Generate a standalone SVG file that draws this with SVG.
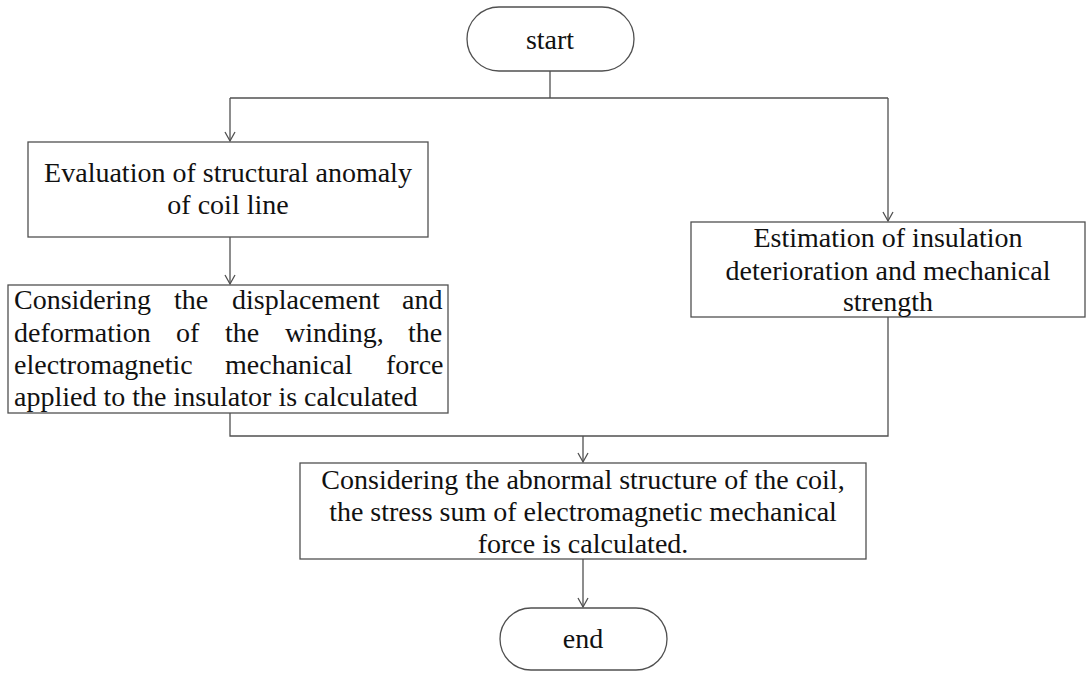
<svg xmlns="http://www.w3.org/2000/svg" width="1086" height="673" viewBox="0 0 1086 673">
<style>
.n{fill:#fff;stroke:#505050;stroke-width:1.3}
.c{fill:none;stroke:#505050;stroke-width:1.3}
.t{font-family:'Liberation Serif', 'DejaVu Serif', serif;font-size:28px;fill:#111}
.m{text-anchor:middle}
</style>
<defs>
<marker id="ah" markerWidth="12" markerHeight="12" refX="10" refY="6" orient="auto" markerUnits="userSpaceOnUse">
<path d="M1,1 L10,6 L1,11" fill="none" stroke="#505050" stroke-width="1.3"/>
</marker>
</defs>
<g id="connectors">
<path class="c" d="M550,71 V98"/>
<path class="c" d="M230,98 H888"/>
<path class="c" d="M230,98 V141" marker-end="url(#ah)"/>
<path class="c" d="M888,98 V221" marker-end="url(#ah)"/>
<path class="c" d="M230,237 V284" marker-end="url(#ah)"/>
<path class="c" d="M230,413 V436 H888 V317"/>
<path class="c" d="M583,436 V462" marker-end="url(#ah)"/>
<path class="c" d="M583,559 V607" marker-end="url(#ah)"/>
</g>
<g class="t" font-family="Liberation Serif, serif">
<g id="start">
<rect class="n" x="467" y="7" width="167" height="64" rx="32"/>
<text class="m" x="550" y="49">start</text>
</g>
<g id="eval">
<rect class="n" x="28" y="142" width="400" height="95"/>
<text class="m" x="228" y="182">Evaluation of structural anomaly</text>
<text class="m" x="228" y="214">of coil line</text>
</g>
<g id="calc1">
<rect class="n" x="8" y="285" width="440" height="128"/>
<text y="309"><tspan x="14">Considering</tspan> <tspan x="174">the</tspan> <tspan x="232">displacement</tspan> <tspan x="402">and</tspan></text>
<text y="342"><tspan x="14">deformation</tspan> <tspan x="176">of</tspan> <tspan x="225">the</tspan> <tspan x="285">winding,</tspan> <tspan x="408">the</tspan></text>
<text y="374"><tspan x="14">electromagnetic</tspan> <tspan x="225">mechanical</tspan> <tspan x="386">force</tspan></text>
<text x="14" y="406">applied to the insulator is calculated</text>
</g>
<g id="estim">
<rect class="n" x="691" y="222" width="394" height="95"/>
<text class="m" x="888" y="247">Estimation of insulation</text>
<text class="m" x="888" y="280">deterioration and mechanical</text>
<text class="m" x="888" y="311">strength</text>
</g>
<g id="calc2">
<rect class="n" x="300" y="463" width="566" height="96"/>
<text class="m" x="583" y="489">Considering the abnormal structure of the coil,</text>
<text class="m" x="583" y="521">the stress sum of electromagnetic mechanical</text>
<text class="m" x="583" y="553">force is calculated.</text>
</g>
<g id="end">
<rect class="n" x="500" y="608" width="167" height="62" rx="31"/>
<text class="m" x="583" y="648">end</text>
</g>
</g>
</svg>
